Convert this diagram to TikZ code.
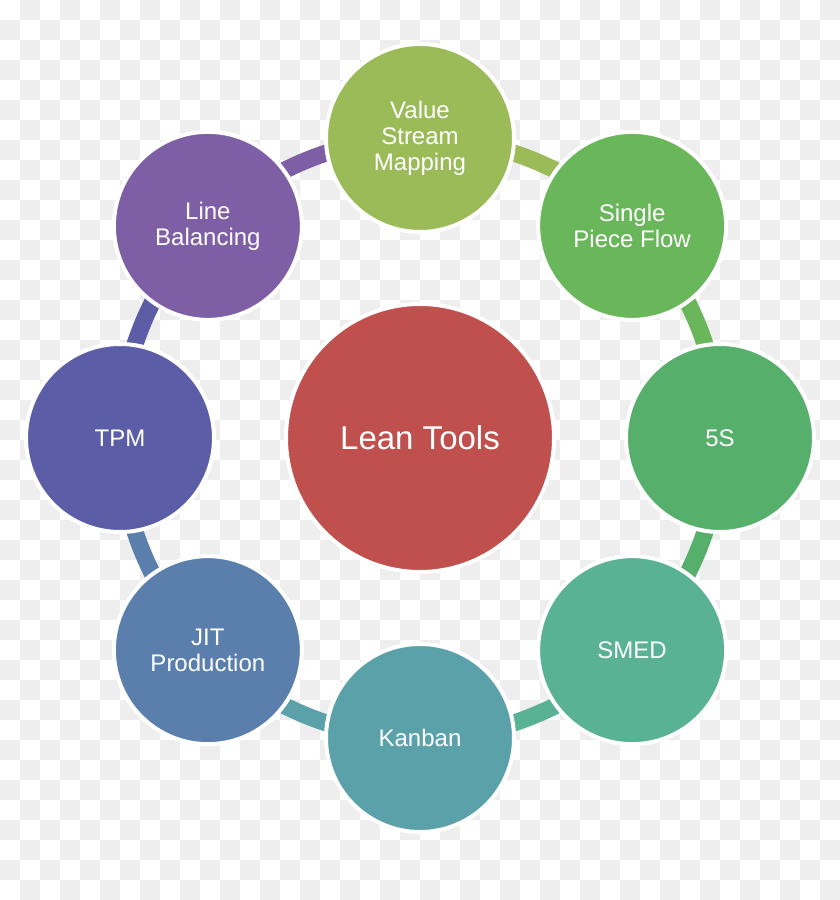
\documentclass[tikz,border=0pt]{standalone}
\usepackage{fontspec}
\setmainfont{Liberation Sans}
\usetikzlibrary{calc}
\definecolor{bgchk}{HTML}{EEEEEE}
\definecolor{cvsm}{HTML}{9BBB59}
\definecolor{cspf}{HTML}{6AB75B}
\definecolor{cfive}{HTML}{56B06B}
\definecolor{csmed}{HTML}{58B293}
\definecolor{ckan}{HTML}{5AA1A9}
\definecolor{cjit}{HTML}{5A7FAC}
\definecolor{ctpm}{HTML}{5B5EA7}
\definecolor{clb}{HTML}{7E5FA6}
\definecolor{ccen}{HTML}{C0504D}
\tikzset{
  toolbub/.style={circle, draw=white, line width=4pt, minimum size=188pt, inner sep=0pt,
    text=white, align=center, font=\fontsize{24}{26}\selectfont},
  centerbub/.style={circle, draw=white, line width=4pt, minimum size=268pt, inner sep=0pt,
    text=white, align=center, font=\fontsize{33}{36}\selectfont},
  band/.style={line width=17pt}
}
\begin{document}
\begin{tikzpicture}[x=1pt,y=1pt]
\useasboundingbox (0,0) rectangle (840,900);
\fill[white] (0,0) rectangle (840,900);
% checkerboard background
\foreach \i in {0,2,...,40}{\foreach \j in {1,3,...,43}{
  \fill[bgchk] (\i*20,880-\j*20) rectangle ++(20,20);}}
\foreach \i in {1,3,...,41}{\foreach \j in {0,2,...,44}{
  \fill[bgchk] (\i*20,880-\j*20) rectangle ++(20,20);}}
\coordinate (o) at (420,462);
\coordinate (p1) at ($(o)+(90:300)$);
\coordinate (p2) at ($(o)+(45:300)$);
\coordinate (p3) at ($(o)+(0:300)$);
\coordinate (p4) at ($(o)+(-45:300)$);
\coordinate (p5) at ($(o)+(-90:300)$);
\coordinate (p6) at ($(o)+(-135:300)$);
\coordinate (p7) at ($(o)+(180:300)$);
\coordinate (p8) at ($(o)+(135:300)$);
% ring bands
\draw[band, cvsm]  (p1) arc[start angle=90, end angle=45, radius=300];
\draw[band, cspf]  (p2) arc[start angle=45, end angle=0, radius=300];
\draw[band, cfive] (p3) arc[start angle=0, end angle=-45, radius=300];
\draw[band, csmed] (p4) arc[start angle=-45, end angle=-90, radius=300];
\draw[band, ckan]  (p5) arc[start angle=-90, end angle=-135, radius=300];
\draw[band, cjit]  (p6) arc[start angle=-135, end angle=-180, radius=300];
\draw[band, ctpm]  (p7) arc[start angle=180, end angle=135, radius=300];
\draw[band, clb]   (p8) arc[start angle=135, end angle=90, radius=300];
% circles
\node[centerbub, fill=ccen] (lean) at (o) {Lean Tools};
\node[toolbub, fill=cvsm]  (vsm) at (p1) {Value\\Stream\\Mapping};
\node[toolbub, fill=cspf]  (spf) at (p2) {Single\\Piece Flow};
\node[toolbub, fill=cfive] (fives) at (p3) {5S};
\node[toolbub, fill=csmed] (smed) at (p4) {SMED};
\node[toolbub, fill=ckan]  (kanban) at (p5) {Kanban};
\node[toolbub, fill=cjit]  (jit) at (p6) {JIT\\Production};
\node[toolbub, fill=ctpm]  (tpm) at (p7) {TPM};
\node[toolbub, fill=clb]   (lb) at (p8) {Line\\Balancing};
\end{tikzpicture}
\end{document}
